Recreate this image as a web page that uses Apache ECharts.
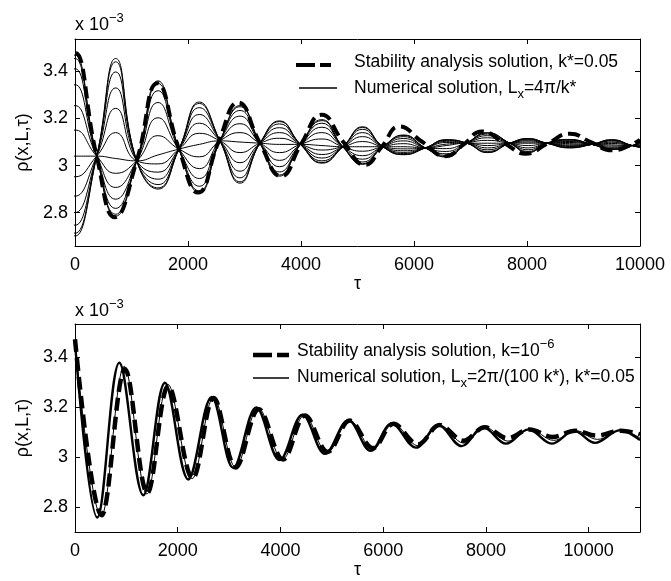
<!DOCTYPE html>
<html><head><meta charset="utf-8">
<script src="https://cdn.jsdelivr.net/npm/echarts@6/dist/echarts.min.js"></script>
<style>html,body{margin:0;padding:0;background:#fff}#c{width:671px;height:581px}</style>
</head><body><div id="c"></div>
<script>
// ================= TOP PANEL DATA =================
const topXTicks = [0, 2000, 4000, 6000, 8000, 10000];
const topYTicks = [2.8, 3.0, 3.2, 3.4];
// crossing points (nodes) shared by all numerical lines; the first one lies just
// before the axis start (curves are at an extreme at tau = 0) and is clipped away
const topNodeTau = [-384, 384, 1092, 1840, 2566, 3274, 3990, 4740, 5450, 6200, 6935, 7695, 8350, 9150, 9860];
const topNodeRho = [3.04, 3.04, 3.02, 3.07, 3.105, 3.095, 3.09, 3.08, 3.08, 3.075, 3.095, 3.095, 3.095, 3.09, 3.085];
// positions of the extremes between nodes (first = start, last = end of axis)
const topExtremeTau = [0, 720, 1470, 2200, 2920, 3620, 4370, 5090, 5820, 6570, 7300, 8020, 8750, 9500, 10000];
// numerical solution lines (values at topExtremeTau)
const topLine01 = [3.47, 2.785, 3.36, 2.885, 3.255, 2.955, 3.195, 3.005, 3.13, 3.036, 3.14, 3.055, 3.111, 3.068, 3.099];
const topLine02 = [3.455, 2.793, 3.349, 2.892, 3.25, 2.96, 3.191, 3.008, 3.128, 3.038, 3.138, 3.056, 3.11, 3.069, 3.099];
const topLine03 = [3.412, 2.818, 3.318, 2.912, 3.234, 2.973, 3.18, 3.015, 3.123, 3.043, 3.134, 3.06, 3.108, 3.071, 3.097];
const topLine04 = [3.344, 2.857, 3.268, 2.945, 3.21, 2.995, 3.163, 3.027, 3.115, 3.05, 3.127, 3.067, 3.105, 3.074, 3.095];
const topLine05 = [3.255, 2.907, 3.203, 2.987, 3.178, 3.022, 3.14, 3.042, 3.105, 3.06, 3.118, 3.075, 3.102, 3.078, 3.092];
const topLine06 = [3.151, 2.967, 3.127, 3.037, 3.14, 3.055, 3.113, 3.061, 3.093, 3.072, 3.107, 3.085, 3.098, 3.083, 3.089];
const topLine07 = [3.04, 3.03, 3.045, 3.09, 3.10, 3.09, 3.085, 3.08, 3.08, 3.085, 3.095, 3.095, 3.093, 3.088, 3.085];
const topLine08 = [2.952, 3.14, 3.007, 3.137, 3.055, 3.116, 3.066, 3.102, 3.071, 3.091, 3.085, 3.10, 3.088, 3.094, 3.083];
const topLine09 = [2.87, 3.243, 2.972, 3.18, 3.012, 3.14, 3.047, 3.123, 3.063, 3.098, 3.075, 3.105, 3.084, 3.099, 3.081];
const topLine10 = [2.80, 3.33, 2.942, 3.217, 2.976, 3.161, 3.032, 3.14, 3.056, 3.103, 3.067, 3.109, 3.081, 3.104, 3.079];
const topLine11 = [2.746, 3.398, 2.919, 3.246, 2.948, 3.177, 3.02, 3.154, 3.051, 3.107, 3.06, 3.112, 3.078, 3.107, 3.078];
const topLine12 = [2.712, 3.441, 2.905, 3.264, 2.931, 3.187, 3.013, 3.162, 3.047, 3.109, 3.056, 3.114, 3.076, 3.109, 3.077];
const topLine13 = [2.70, 3.455, 2.90, 3.27, 2.925, 3.19, 3.01, 3.165, 3.046, 3.11, 3.055, 3.115, 3.075, 3.11, 3.077];
// stability analysis solution (dashed)
const topStabTau = [-384, 0, 384, 708, 1092, 1460, 1840, 2180, 2540, 2890, 3274, 3650, 4000, 4366, 4750, 5133, 5430, 5740, 6150, 6560, 6880, 7200, 7600, 7980, 8370, 8761, 9130, 9500, 9820, 10000];
const topStabRho = [3.04, 3.48, 3.04, 2.78, 3.02, 3.35, 3.07, 2.885, 3.10, 3.268, 3.095, 2.955, 3.09, 3.216, 3.10, 3.003, 3.08, 3.166, 3.10, 3.04, 3.09, 3.145, 3.095, 3.05, 3.095, 3.135, 3.10, 3.065, 3.085, 3.11];

// ================= BOTTOM PANEL DATA =================
const botXTicks = [0, 2000, 4000, 6000, 8000, 10000];
const botYTicks = [2.8, 3.0, 3.2, 3.4];
const botNumTau = [0, 435, 863, 1330, 1752, 2206, 2661, 3083, 3530, 3985, 4430, 4868, 5322, 5757, 6165, 6640, 7074, 7529, 7950, 8392, 8826, 9281, 9716, 10125, 10612, 11000];
const botNumRho = [3.455, 2.758, 3.376, 2.847, 3.296, 2.91, 3.24, 2.956, 3.198, 2.987, 3.169, 3.012, 3.147, 3.024, 3.133, 3.037, 3.127, 3.043, 3.118, 3.053, 3.11, 3.053, 3.104, 3.056, 3.107, 3.067];
const botNum2Tau = [0, 510, 960, 1400, 1810, 2280, 2700, 3130, 3570, 4040, 4470, 4910, 5350, 5800, 6200, 6680, 7100, 7570, 7990, 8430, 8860, 9320, 9750, 10170, 10640, 11000];
const botNum2Rho = [3.46, 2.762, 3.362, 2.852, 3.29, 2.913, 3.238, 2.958, 3.195, 2.99, 3.167, 3.017, 3.146, 3.03, 3.133, 3.044, 3.127, 3.055, 3.118, 3.063, 3.11, 3.066, 3.105, 3.07, 3.106, 3.075];
const botStabTau = [0, 519, 974, 1408, 1818, 2290, 2700, 3130, 3580, 4050, 4480, 4920, 5350, 5800, 6200, 6680, 7100, 7560, 7980, 8420, 8850, 9300, 9740, 10150, 10630, 11000];
const botStabRho = [3.47, 2.767, 3.35, 2.856, 3.283, 2.915, 3.235, 2.958, 3.19, 2.99, 3.165, 3.02, 3.145, 3.035, 3.132, 3.05, 3.127, 3.065, 3.118, 3.075, 3.11, 3.08, 3.105, 3.085, 3.105, 3.09];

// ================= BUILD =================
const FONT = '"Liberation Sans", Arial, Helvetica, sans-serif';
const topLines = [topLine01, topLine02, topLine03, topLine04, topLine05, topLine06, topLine07,
                  topLine08, topLine09, topLine10, topLine11, topLine12, topLine13];
function buildTopLine(ext) {
  const pts = [[topNodeTau[0], topNodeRho[0]], [topExtremeTau[0], ext[0]]];
  for (let i = 1; i < topNodeTau.length; i++) {
    pts.push([topNodeTau[i], topNodeRho[i]]);
    pts.push([topExtremeTau[i], ext[i]]);
  }
  return pts;
}
function zip(a, b) { return a.map((v, i) => [v, b[i]]); }
function fmtY(v) { return String(parseFloat((+v).toFixed(1))); }
function fmtX(v) { return String(Math.round(+v)); }

function xAxes(grid, max, ticks) {
  const common = {
    gridIndex: grid, type: 'value', min: 0, max: max,
    axisLine: { show: true, onZero: false, lineStyle: { color: '#000', width: 1 } },
    axisTick: { show: true, inside: true, length: 5, customValues: ticks, lineStyle: { color: '#000', width: 1 } },
    splitLine: { show: false }
  };
  return [
    Object.assign({}, common, {
      position: 'bottom',
      axisLabel: { show: true, customValues: ticks, formatter: fmtX, color: '#000', fontSize: 18, fontFamily: FONT, margin: 10 },
      name: 'τ', nameLocation: 'middle', nameGap: 22,
      nameTextStyle: { color: '#000', fontSize: 18, fontFamily: FONT }
    }),
    Object.assign({}, common, { position: 'top', axisLabel: { show: false } })
  ];
}
function yAxes(grid, min, max, ticks) {
  const common = {
    gridIndex: grid, type: 'value', min: min, max: max,
    axisLine: { show: true, onZero: false, lineStyle: { color: '#000', width: 1 } },
    axisTick: { show: true, inside: true, length: 5, customValues: ticks, lineStyle: { color: '#000', width: 1 } },
    splitLine: { show: false }
  };
  return [
    Object.assign({}, common, {
      position: 'left',
      axisLabel: { show: true, customValues: ticks, formatter: fmtY, color: '#000', fontSize: 18, fontFamily: FONT, margin: 7 },
      name: 'ρ(x,L,τ)', nameLocation: 'middle', nameGap: 42, nameRotate: 90,
      nameTextStyle: { color: '#000', fontSize: 18, fontFamily: FONT }
    }),
    Object.assign({}, common, { position: 'right', axisLabel: { show: false } })
  ];
}

const series = [];
topLines.forEach((ln) => {
  series.push({
    type: 'line', xAxisIndex: 0, yAxisIndex: 0, data: buildTopLine(ln),
    smooth: 0.5, symbol: 'none', silent: true, clip: true,
    lineStyle: { color: '#000', width: 1 }
  });
});
series.push({
  type: 'line', xAxisIndex: 0, yAxisIndex: 0, data: zip(topStabTau, topStabRho),
  smooth: 0.5, symbol: 'none', silent: true, clip: true,
  lineStyle: { color: '#000', width: 4, type: [12, 6] }
});
series.push({
  type: 'line', xAxisIndex: 2, yAxisIndex: 2, data: zip(botStabTau, botStabRho),
  smooth: 0.37, symbol: 'none', silent: true,
  lineStyle: { color: '#000', width: 4.5, type: [13, 6] }
});
series.push({
  type: 'line', xAxisIndex: 2, yAxisIndex: 2, data: zip(botNum2Tau, botNum2Rho),
  smooth: 0.37, symbol: 'none', silent: true,
  lineStyle: { color: '#000', width: 1 }
});
series.push({
  type: 'line', xAxisIndex: 2, yAxisIndex: 2, data: zip(botNumTau, botNumRho),
  smooth: 0.37, symbol: 'none', silent: true,
  lineStyle: { color: '#000', width: 2.4 }
});

const rich = {
  m: { fontSize: 17.5, lineHeight: 26, fontFamily: FONT, color: '#000' },
  s: { fontSize: 13, lineHeight: 12, verticalAlign: 'bottom', fontFamily: FONT, color: '#000' },
  p: { fontSize: 13, lineHeight: 12, verticalAlign: 'top', fontFamily: FONT, color: '#000' },
  e: { fontSize: 18, lineHeight: 26, fontFamily: FONT, color: '#000' }
};
function txt(x, y, text) {
  return { type: 'text', x: x, y: y, silent: true,
    style: { text: text, rich: rich, fill: '#000', font: '17.5px ' + FONT,
             align: 'left', verticalAlign: 'middle', textAlign: 'left', textVerticalAlign: 'middle' } };
}
function seg(x1, x2, y, w, dash) {
  return { type: 'line', silent: true, shape: { x1: x1, y1: y, x2: x2, y2: y },
    style: { stroke: '#000', lineWidth: w, lineDash: dash || null } };
}

const option = {
  animation: false,
  backgroundColor: '#fff',
  grid: [
    { left: 75, right: 31, top: 39, height: 207, containLabel: false },
    { left: 75, right: 31, top: 324, height: 208, containLabel: false }
  ],
  xAxis: xAxes(0, 10000, topXTicks).concat(xAxes(1, 11000, botXTicks)),
  yAxis: yAxes(0, 2.658, 3.538, topYTicks).concat(yAxes(1, 2.70, 3.531, botYTicks)),
  series: series,
  graphic: [
    txt(75, 25, '{e|x 10}{p|−3}'),
    txt(75, 311, '{e|x 10}{p|−3}'),
    seg(296, 331, 65, 4, [19, 5]),
    seg(299, 337, 88, 1.3),
    txt(354, 62, '{m|Stability analysis solution, k*=0.05}'),
    txt(354, 88, '{m|Numerical solution, L}{s|x}{m|=4π/k*}'),
    seg(253, 289, 355, 4.5, [19, 5]),
    seg(253, 289, 378, 1.3),
    txt(297, 351, '{m|Stability analysis solution, k=10}{p|−6}'),
    txt(297, 377, '{m|Numerical solution, L}{s|x}{m|=2π/(100 k*), k*=0.05}')
  ]
};
const chart = echarts.init(document.getElementById('c'), null, { renderer: 'canvas' });
chart.setOption(option);
</script>
</body></html>
